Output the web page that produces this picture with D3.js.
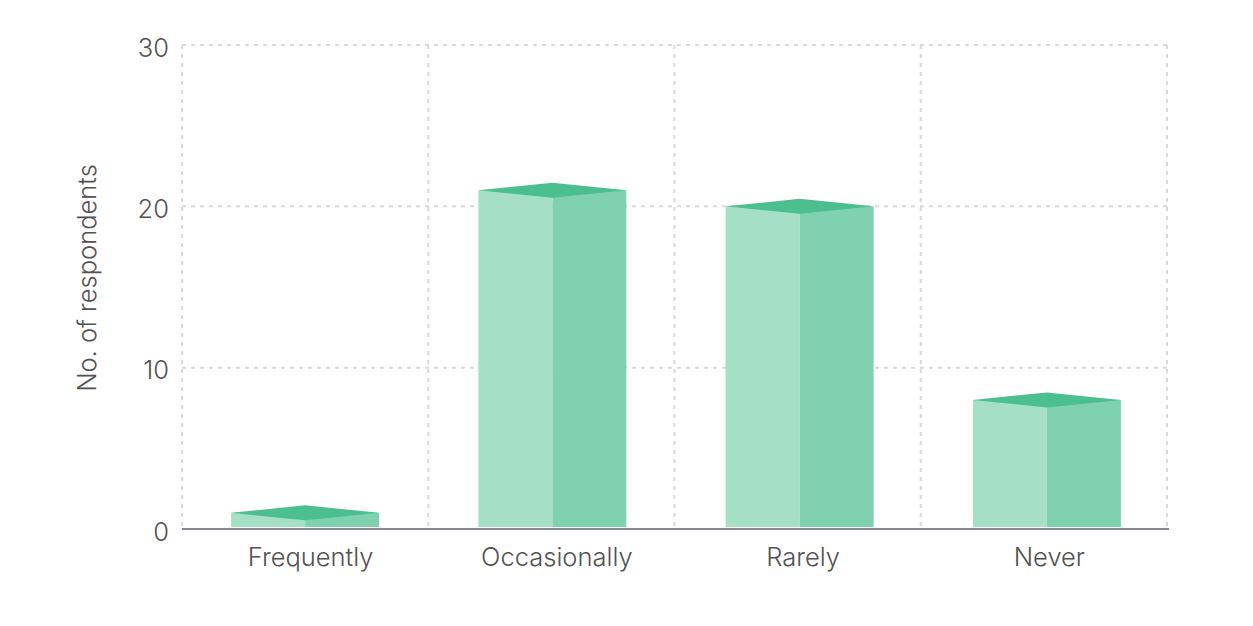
<!DOCTYPE html>
<html><head><meta charset="utf-8">
<script src="https://cdn.jsdelivr.net/npm/d3@7"></script>
<style>body{margin:0;background:#fff;}svg{display:block;font-family:Inter,"Noto Sans",sans-serif;}</style>
</head><body>
<svg id="c" width="1253" height="626"></svg>
<script>
const categories = ["Frequently","Occasionally","Rarely","Never"];
const values = [1, 21, 20, 8];
const yTicks = [0, 10, 20, 30];
const yLabel = "No. of respondents";

const svg = d3.select("#c");
const m = {l:182, r:1167, t:45, b:529};
const x = d3.scaleBand().domain(categories).range([m.l, m.r]);
const y = d3.scaleLinear().domain([0,30]).range([m.b, m.t]);
const textCol = "#525252";
const fs = 25.5, fw = 300;

// grid
const g = svg.append("g");
g.selectAll(".hg").data(yTicks.filter(d=>d>0)).join("line")
  .attr("x1",m.l).attr("x2",m.r).attr("y1",d=>y(d)).attr("y2",d=>y(d))
  .attr("stroke","#d9d9d9").attr("stroke-width",2).attr("stroke-dasharray","4,5");
const vx = categories.map(c=>x(c)).concat([m.r]);
g.selectAll(".vg").data(vx).join("line")
  .attr("x1",d=>d).attr("x2",d=>d).attr("y1",m.t).attr("y2",m.b)
  .attr("stroke","#d9d9d9").attr("stroke-width",2).attr("stroke-dasharray","4,5");

// y tick labels
svg.selectAll(".yt").data(yTicks).join("text")
  .attr("x",169).attr("y",d=>y(d)+2.5).attr("dy","0.36em").attr("text-anchor","end")
  .attr("font-size",fs).attr("font-weight",fw).attr("fill",textCol).text(d=>d);

// y label
svg.append("text").attr("transform","translate(96,278) rotate(-90)")
  .attr("text-anchor","middle").attr("font-size",fs).attr("font-weight",fw).attr("fill",textCol).text(yLabel);

// bars
const bw = 148, depth = 7.5;
const bars = svg.append("g");
categories.forEach((c,i)=>{
  const cx = x(c) + x.bandwidth()/2 + i*1;
  const yt = y(values[i]);
  const yb = m.b - 2;
  bars.append("rect").attr("x",cx-bw/2).attr("y",yt).attr("width",bw/2).attr("height",yb-yt).attr("fill","#a5dfc5");
  bars.append("rect").attr("x",cx).attr("y",yt).attr("width",bw/2).attr("height",yb-yt).attr("fill","#7fd1b0");
  bars.append("path").attr("d",`M${cx-bw/2},${yt} L${cx},${yt-depth} L${cx+bw/2},${yt} L${cx},${yt+depth} Z`).attr("fill","#4bbf8d");
});

// x axis
svg.append("line").attr("x1",m.l).attr("x2",m.r+2).attr("y1",m.b).attr("y2",m.b)
  .attr("stroke","#8a8796").attr("stroke-width",2);
svg.selectAll(".xt").data(categories).join("text")
  .attr("x",d=>x(d)+x.bandwidth()/2+5.5).attr("y",566).attr("text-anchor","middle")
  .attr("font-size",fs).attr("font-weight",fw).attr("fill",textCol).text(d=>d);
</script>
</body></html>
